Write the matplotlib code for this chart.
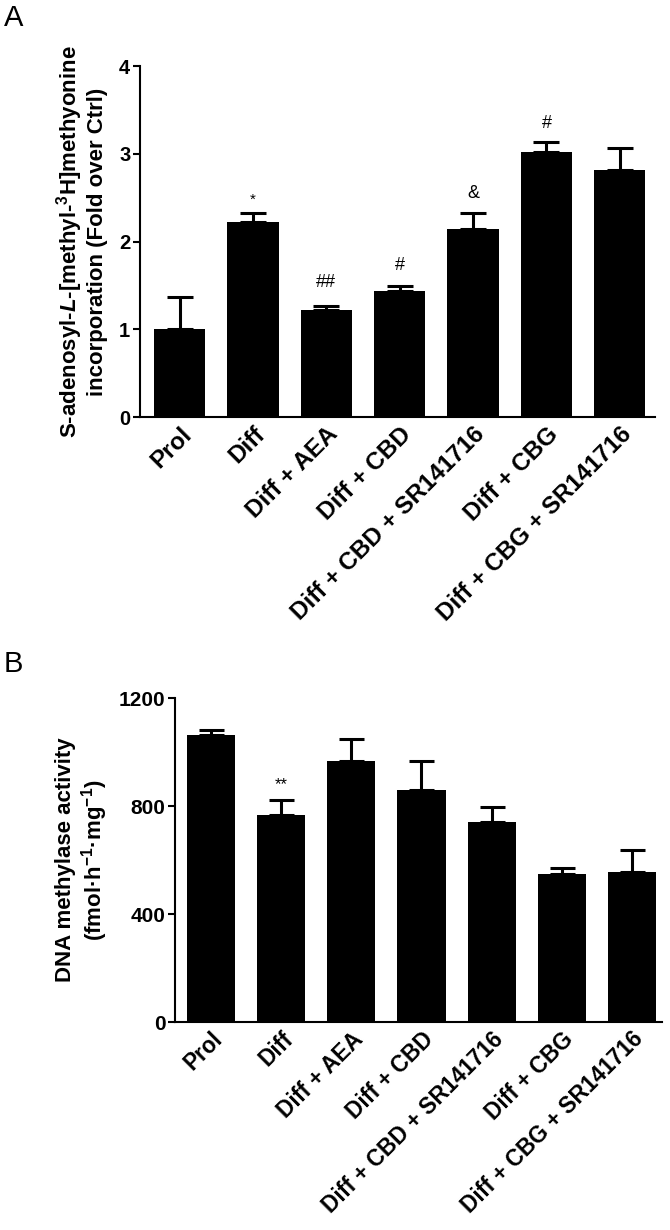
import numpy as np
import matplotlib
matplotlib.use("Agg")
import matplotlib.pyplot as plt

# Fonts
plt.rcParams['font.family'] = ['Liberation Sans', 'DejaVu Sans']
plt.rcParams['mathtext.fontset'] = 'custom'
plt.rcParams['mathtext.rm'] = 'Liberation Sans:bold'
plt.rcParams['mathtext.it'] = 'Liberation Sans:italic:bold'
plt.rcParams['mathtext.bf'] = 'Liberation Sans:bold'

# Data
groups = ['Prol', 'Diff', 'Diff + AEA', 'Diff + CBD', 'Diff + CBD + SR141716',
          'Diff + CBG', 'Diff + CBG + SR141716']

# Panel A: SAM incorporation (fold over ctrl)
sam_mean = [1.00, 2.22, 1.22, 1.44, 2.14, 3.02, 2.81]
sam_err = [0.37, 0.10, 0.05, 0.05, 0.19, 0.11, 0.25]
sam_marks = ['', '*', '##', '#', '&', '#', '']
sam_mark_y = [0, 2.47, 1.53, 1.73, 2.55, 3.34, 0]

# Panel B: DNA methylase activity
dnmt_mean = [1064, 767, 966, 859, 740, 550, 555]
dnmt_err = [19, 55, 81, 107, 58, 21, 83]
dnmt_marks = ['', '**', '', '', '', '', '']
dnmt_mark_y = [0, 878, 0, 0, 0, 0, 0]


def style_axes(ax, ymax, yticks, ysize, xsize):
    ax.spines['top'].set_visible(False)
    ax.spines['right'].set_visible(False)
    ax.spines['left'].set_linewidth(1.5)
    ax.spines['bottom'].set_linewidth(1.5)
    ax.set_ylim(0, ymax)
    ax.set_yticks(yticks)
    ax.tick_params(axis='y', length=5, width=1.5, labelsize=ysize, pad=2)
    ax.tick_params(axis='x', length=0, labelsize=xsize, pad=4)
    for t in ax.get_yticklabels():
        t.set_fontweight('bold')
    ax.set_xticks(np.arange(len(groups)))
    ax.set_xticklabels(groups, rotation=45, ha='right', va='top',
                       rotation_mode='anchor', fontweight='bold')


fig = plt.figure(figsize=(6.7, 12.3), dpi=100)

# Panel A
axA = fig.add_axes([140/670, 1 - 417/1230, (655-140)/670, (417-66)/1230])
x = np.arange(len(groups))
axA.bar(x, sam_mean, width=0.70, color='black', zorder=2)
axA.errorbar(x, sam_mean, yerr=[np.zeros(len(x)), sam_err], fmt='none',
             ecolor='black', elinewidth=2.2, capsize=9.5, capthick=2.2, zorder=1)
for xi, m, my in zip(x, sam_marks, sam_mark_y):
    if m:
        fs = 11 if m == '*' else 13
        axA.text(xi, my, m, ha='center', va='center', fontsize=fs)
axA.set_xlim(-0.54, 6.48)
style_axes(axA, 4, [0, 1, 2, 3, 4], 14.5, 17.5)
axA.set_ylabel('S-adenosyl-$\\mathit{L}$-[methyl-$^{3}$H]methyonine\n'
               'incorporation (Fold over Ctrl)',
               fontsize=16, fontweight='bold', labelpad=8, linespacing=1.15)

# Panel B
axB = fig.add_axes([175/670, 1 - 1022/1230, (662-175)/670, (1022-698)/1230])
axB.bar(x, dnmt_mean, width=0.686, color='black', zorder=2)
axB.errorbar(x, dnmt_mean, yerr=[np.zeros(len(x)), dnmt_err], fmt='none',
             ecolor='black', elinewidth=2.2, capsize=9, capthick=2.2, zorder=1)
for xi, m, my in zip(x, dnmt_marks, dnmt_mark_y):
    if m:
        axB.text(xi, my, m, ha='center', va='center', fontsize=12)
axB.set_xlim(-0.514, 6.43)
style_axes(axB, 1200, [0, 400, 800, 1200], 15, 16.3)
axB.set_ylabel('DNA methylase activity\n(fmol·h$^{-1}$·mg$^{-1}$)',
               fontsize=16, fontweight='bold', labelpad=6, linespacing=1.15)

fig.text(0.006, 0.997, 'A', fontsize=21, va='top', ha='left')
fig.text(0.006, 1 - 650/1230, 'B', fontsize=21, va='top', ha='left')

fig.savefig('out.png', dpi=100)
